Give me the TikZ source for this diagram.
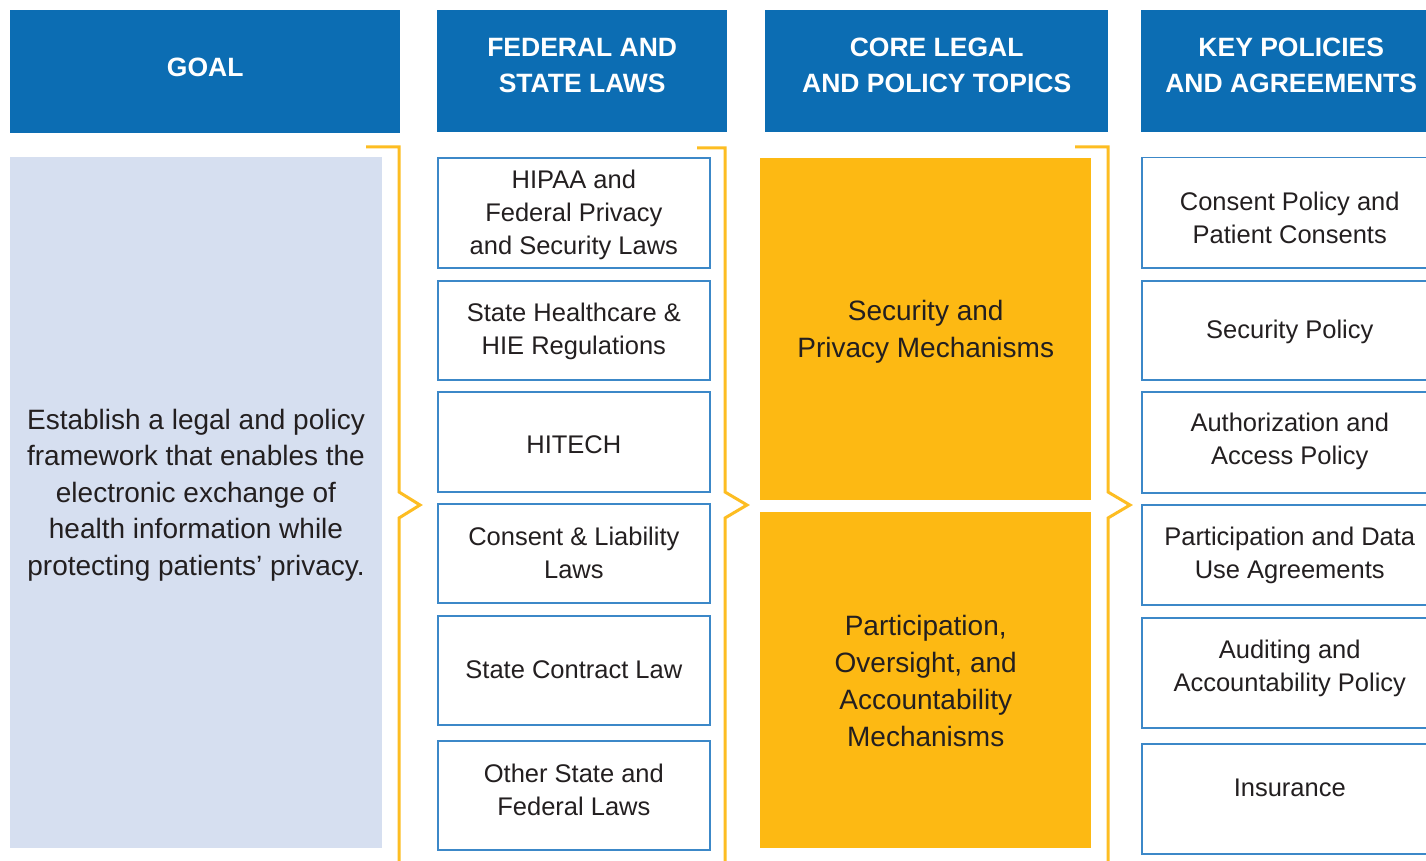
\documentclass[tikz,border=0pt]{standalone}
\usepackage{fontspec}
\setmainfont{Liberation Sans}
\definecolor{hdrblue}{HTML}{0C6DB3}
\definecolor{boxblue}{HTML}{3C88C8}
\definecolor{goalfill}{HTML}{D6DFF0}
\definecolor{corefill}{HTML}{FDB913}
\definecolor{brk}{HTML}{FDBD22}
\definecolor{txt}{HTML}{231F20}
\tikzset{
  hdr/.style={fill=hdrblue, draw=none, inner sep=0pt, anchor=north west},
  hdrtxt/.style={text=white, font=\bfseries\fontsize{26.5}{36}\selectfont, align=center, inner sep=0pt},
  lawbox/.style={draw=boxblue, line width=1.7pt, fill=white, inner sep=0pt, anchor=north west},
  lawtxt/.style={text=txt, font=\fontsize{25.5}{33}\selectfont, align=center, inner sep=0pt},
  corebox/.style={fill=corefill, draw=none, inner sep=0pt, anchor=north west},
  coretxt/.style={text=txt, font=\fontsize{28}{37}\selectfont, align=center, inner sep=0pt},
  goalbox/.style={fill=goalfill, draw=none, inner sep=0pt, anchor=north west},
  goaltxt/.style={text=txt, font=\fontsize{28}{36.5}\selectfont, align=center, inner sep=0pt},
  bracket/.style={draw=brk, line width=3pt, line join=miter}
}
\begin{document}
\begin{tikzpicture}[x=1pt,y=-1pt]
\useasboundingbox (0,0) rectangle (1426,861);
\clip (0,0) rectangle (1426,861);
\fill[white] (0,0) rectangle (1426,861);

% headers
\node[hdr, minimum width=390pt, minimum height=123pt, label={[hdrtxt, yshift=4pt]center:GOAL}] (hgoal) at (10,10) {};
\node[hdr, minimum width=290pt, minimum height=122pt, label={[hdrtxt, yshift=5.5pt]center:{FEDERAL AND\\STATE LAWS}}] (hfed) at (437,10) {};
\node[hdr, minimum width=343pt, minimum height=122pt, label={[hdrtxt, yshift=5.5pt]center:{CORE LEGAL\\AND POLICY TOPICS}}] (hcore) at (765,10) {};
\node[hdr, minimum width=300pt, minimum height=122pt, label={[hdrtxt, yshift=5.5pt]center:{KEY POLICIES\\AND AGREEMENTS}}] (hkey) at (1141,10) {};

% goal
\node[goalbox, minimum width=372pt, minimum height=691pt] (goal) at (10,157) {};
\node[goaltxt] (goaltext) at (196,495) {Establish a legal and policy\\framework that enables the\\electronic exchange of\\health information while\\protecting patients’ privacy.};

% federal and state laws
\node[lawbox, minimum width=272pt, minimum height=110pt, label={[lawtxt, yshift=-2pt]center:{HIPAA and\\Federal Privacy\\and Security Laws}}] (f1) at (437,157) {};
\node[lawbox, minimum width=272pt, minimum height=99pt, label={[lawtxt, yshift=-1pt]center:{State Healthcare \&\\HIE Regulations}}] (f2) at (437,280) {};
\node[lawbox, minimum width=272pt, minimum height=100pt, label={[lawtxt, yshift=-3pt]center:HITECH}] (f3) at (437,391) {};
\node[lawbox, minimum width=272pt, minimum height=99pt, label={[lawtxt]center:{Consent \& Liability\\Laws}}] (f4) at (437,503) {};
\node[lawbox, minimum width=272pt, minimum height=109pt, label={[lawtxt, yshift=1pt]center:State Contract Law}] (f5) at (437,615) {};
\node[lawbox, minimum width=272pt, minimum height=109pt, label={[lawtxt, yshift=5pt]center:{Other State and\\Federal Laws}}] (f6) at (437,740) {};

% core topics
\node[corebox, minimum width=331pt, minimum height=342pt, label={[coretxt, yshift=-3pt]center:{Security and\\Privacy Mechanisms}}] (c1) at (760,158) {};
\node[corebox, minimum width=331pt, minimum height=336pt, label={[coretxt, yshift=-1pt]center:{Participation,\\Oversight, and\\Accountability\\Mechanisms}}] (c2) at (760,512) {};

% key policies
\node[lawbox, line width=1.5pt, minimum width=296pt, minimum height=110pt, label={[lawtxt, yshift=-5pt]center:{Consent Policy and\\Patient Consents}}] (k1) at (1141,157) {};
\node[lawbox, line width=1.5pt, minimum width=296pt, minimum height=99pt, label={[lawtxt, yshift=-2pt]center:Security Policy}] (k2) at (1141,280) {};
\node[lawbox, line width=1.5pt, minimum width=296pt, minimum height=101pt, label={[lawtxt, yshift=1pt]center:{Authorization and\\Access Policy}}] (k3) at (1141,391) {};
\node[lawbox, line width=1.5pt, minimum width=296pt, minimum height=100pt, label={[lawtxt, yshift=-1pt]center:{Participation and Data\\Use Agreements}}] (k4) at (1141,504) {};
\node[lawbox, line width=1.5pt, minimum width=296pt, minimum height=110pt, label={[lawtxt, yshift=4pt]center:{Auditing and\\Accountability Policy}}] (k5) at (1141,617) {};
\node[lawbox, line width=1.5pt, minimum width=296pt, minimum height=110pt, label={[lawtxt, yshift=11pt]center:Insurance}] (k6) at (1141,743) {};

% brackets
\draw[bracket] (366,147) -- (399,147) -- (399,492) -- (420,505) -- (399,518) -- (399,870);
\draw[bracket] (697,148) -- (725,148) -- (725,492) -- (747,505) -- (725,518) -- (725,870);
\draw[bracket] (1075,147) -- (1108,147) -- (1108,492) -- (1130,505) -- (1108,518) -- (1108,870);
\end{tikzpicture}
\end{document}
